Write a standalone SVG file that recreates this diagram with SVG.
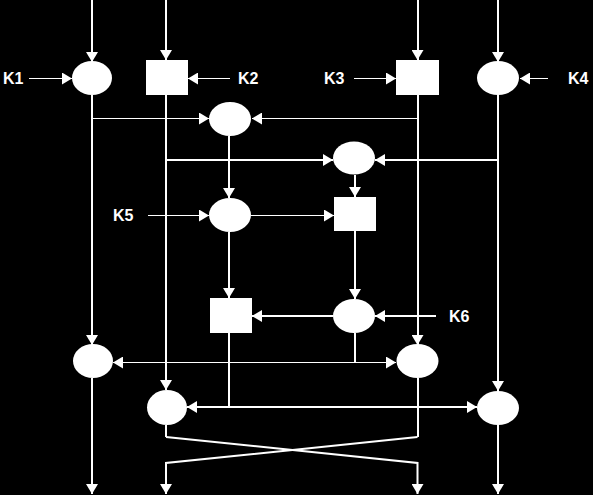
<svg xmlns="http://www.w3.org/2000/svg" width="593" height="495" viewBox="0 0 593 495">
<defs>
<style>
.bg{fill:#000}
.n{fill:#fff;stroke:none}
.c{fill:none;stroke:#fff;stroke-width:2;marker-end:url(#ah);shape-rendering:crispEdges}
.t{fill:none;stroke:#fff;stroke-width:1;marker-end:url(#ah);shape-rendering:crispEdges}
.p{fill:none;stroke:#fff;stroke-width:2;shape-rendering:crispEdges}
.d{fill:none;stroke:#fff;stroke-width:2;marker-end:url(#ah)}
.lbl{fill:#fff;font-family:"Liberation Sans",Arial,sans-serif;font-size:16px;font-weight:bold}
</style>
<marker id="ah" markerUnits="userSpaceOnUse" viewBox="0 0 10 12" markerWidth="10" markerHeight="12" refX="10" refY="6" orient="auto">
<path d="M0,0 L10,6 L0,12 z" fill="#fff"/>
</marker>
</defs>
<rect class="bg" x="0" y="0" width="593" height="495"/>
<g id="connectors">
<path class="c" d="M92,0 V62"/>
<path class="c" d="M92,95 V345"/>
<path class="c" d="M92,378 V494"/>
<path class="c" d="M166,0 V60"/>
<path class="c" d="M166,95 V390"/>
<path class="c" d="M417.5,0 V60"/>
<path class="c" d="M417.5,95 V345"/>
<path class="c" d="M498,0 V62"/>
<path class="c" d="M498,95 V391"/>
<path class="c" d="M498,425 V494"/>
<path class="p" d="M166,425 V437"/>
<path class="d" d="M166,437 L417.5,463 V494"/>
<path class="p" d="M417.5,378 V437"/>
<path class="d" d="M417.5,437 L166,463 V494"/>
<path class="t" d="M29,78.5 H72"/>
<path class="t" d="M230,78.5 H188"/>
<path class="t" d="M354,78.5 H396"/>
<path class="t" d="M548,78.5 H520"/>
<path class="t" d="M92,118.5 H209"/>
<path class="t" d="M417.5,118.5 H252"/>
<path class="c" d="M166,160 H333"/>
<path class="c" d="M498,160 H375"/>
<path class="c" d="M229,136 V198"/>
<path class="c" d="M355,175 V197"/>
<path class="t" d="M148,215.5 H209"/>
<path class="t" d="M251,215.5 H334"/>
<path class="c" d="M229,232 V298"/>
<path class="c" d="M355,231 V299"/>
<path class="c" d="M436,316 H375"/>
<path class="c" d="M333,316 H252"/>
<path class="p" d="M355,333 V362.5"/>
<path class="t" d="M355,362.5 H113"/>
<path class="t" d="M355,362.5 H396"/>
<path class="p" d="M229,333 V407"/>
<path class="c" d="M229,407 H187"/>
<path class="c" d="M229,407 H477"/>
</g>
<g id="op1"><ellipse class="n" cx="92" cy="78" rx="20" ry="17"/></g>
<g id="op2"><rect class="n" x="146" y="60" width="42" height="35"/></g>
<g id="op3"><rect class="n" x="396" y="60" width="43" height="35"/></g>
<g id="op4"><ellipse class="n" cx="498" cy="78" rx="21" ry="17"/></g>
<g id="op5"><ellipse class="n" cx="230" cy="119" rx="21" ry="17"/></g>
<g id="op6"><ellipse class="n" cx="354" cy="158" rx="21" ry="16.5"/></g>
<g id="op7"><ellipse class="n" cx="230" cy="215" rx="21" ry="17"/></g>
<g id="op8"><rect class="n" x="334" y="197" width="42" height="34"/></g>
<g id="op9"><rect class="n" x="210" y="298" width="42" height="35"/></g>
<g id="op10"><ellipse class="n" cx="354" cy="316" rx="21" ry="17"/></g>
<g id="op11"><ellipse class="n" cx="93" cy="361" rx="20" ry="17"/></g>
<g id="op12"><ellipse class="n" cx="417.5" cy="361" rx="21" ry="17"/></g>
<g id="op13"><ellipse class="n" cx="167" cy="407.5" rx="20" ry="17.5"/></g>
<g id="op14"><ellipse class="n" cx="498" cy="408" rx="21" ry="17"/></g>
<g id="labels">
<text class="lbl" x="3" y="84">K1</text>
<text class="lbl" x="238" y="84">K2</text>
<text class="lbl" x="324" y="84">K3</text>
<text class="lbl" x="568" y="84">K4</text>
<text class="lbl" x="113" y="221">K5</text>
<text class="lbl" x="449" y="322">K6</text>
</g>
</svg>
